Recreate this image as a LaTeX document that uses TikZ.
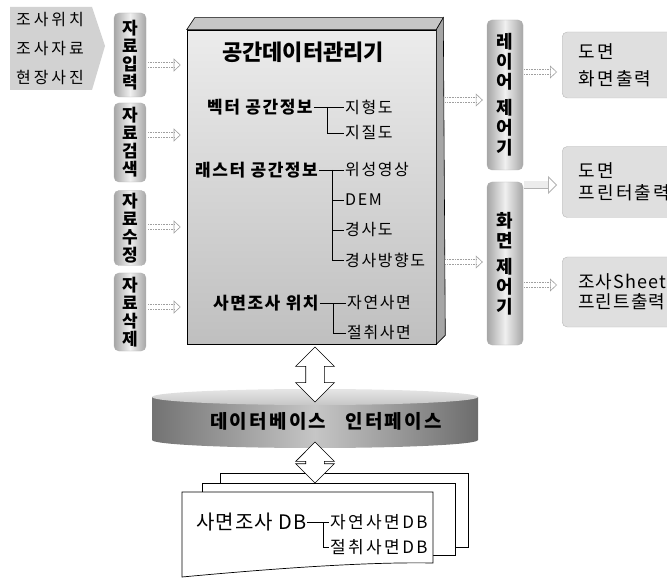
\documentclass[tikz,border=0pt]{standalone}
\usepackage{fontspec}
\setmainfont{Noto Sans CJK KR}
\usetikzlibrary{shapes.arrows,arrows.meta,calc}
\newcommand\lsp[1]{\addfontfeatures{LetterSpace=#1}}
\begin{document}
\begin{tikzpicture}[x=1pt,y=-1pt,
  lpill/.style={draw=gray!60, rounded corners=5pt, left color=gray!70, right color=gray!70, middle color=gray!12,
    minimum width=32pt, align=center, inner sep=0pt, font=\bfseries\fontsize{17}{18}\selectfont},
  rpill/.style={lpill, minimum width=36pt, font=\bfseries\fontsize{18}{20}\selectfont},
  mainface/.style={draw=black, line width=0.6pt, top color=gray!15, bottom color=gray!50, minimum width=249pt, minimum height=314pt, inner sep=0pt},
  cat/.style={anchor=west, inner sep=1pt, font=\bfseries\fontsize{17}{20}\selectfont\lsp{9}},
  item/.style={anchor=west, inner sep=1pt, font=\fontsize{16}{19}\selectfont\lsp{10}},
  tree/.style={line width=0.7pt, black},
  dotarr/.style={draw=gray!75, densely dotted, line width=0.6pt, double=white, double distance=4pt,
    -{Triangle[open, length=7pt, width=13pt]}},
  grayarr/.style={draw=gray!60, line width=0.8pt, double=gray!15, double distance=7pt,
    -{Triangle[open, length=9pt, width=18pt]}},
  outbox/.style={anchor=west, draw=gray!55, fill=gray!25, rounded corners=5pt, align=left, text width=100pt,
    inner xsep=16pt, inner ysep=0pt, minimum height=66pt, font=\fontsize{18}{22}\selectfont\lsp{13}},
  dblarr/.style={double arrow, draw=black, fill=white, line width=0.7pt, rotate=90, inner xsep=0pt, inner ysep=9pt,
    double arrow head extend=10pt, double arrow head indent=0pt}
]
\useasboundingbox (0,0) rectangle (667,580);

% source box
\fill[gray!35] (10,7) -- (92,7) -- (105,46) -- (92,90) -- (10,90) -- cycle;
\node[anchor=north west, align=left, inner sep=0pt, font=\fontsize{16}{29}\selectfont\lsp{18}] (src) at (16,12) {조사위치\\조사자료\\현장사진};

% left pills
\node[lpill, minimum height=84pt] (p1) at (130,55) {자\\료\\입\\력};
\node[lpill, minimum height=79pt] (p2) at (130,142.5) {자\\료\\검\\색};
\node[lpill, minimum height=75pt] (p3) at (130,228) {자\\료\\수\\정};
\node[lpill, minimum height=78pt] (p4) at (130,312) {자\\료\\삭\\제};

% main box
\node[mainface] (main) at (311.5,187) {};
\filldraw[fill=gray!45, draw=black, line width=0.6pt] (main.north west) -- ++(8,-12) -- ($(main.north east)+(7,-12)$) -- (main.north east) -- cycle;
\filldraw[fill=gray!70, draw=black, line width=0.6pt] (main.north east) -- ++(7,-12) -- ($(main.south east)+(9,-9)$) -- (main.south east) -- cycle;

\node[font=\bfseries\fontsize{22}{26}\selectfont] (title) at (303,52) {공간데이터관리기};

\node[cat] (vp) at (206,107) {벡터 공간정보};
\node[item] (v1) at (344,107) {지형도};
\node[item] (v2) at (344,133) {지질도};
\draw[tree] (vp.east) -- (v1.west);
\draw[tree] (vp.east -| 327,0) |- (v2.west);

\node[cat] (rp) at (194,170) {래스터 공간정보};
\node[item] (r1t) at (344,170) {위성영상};
\node[item] (r2t) at (344,200) {DEM};
\node[item] (r3t) at (344,230) {경사도};
\node[item] (r4t) at (344,260) {경사방향도};
\draw[tree] (rp.east) -- (r1t.west);
\draw[tree] (rp.east -| 332,0) |- (r4t.west);
\draw[tree] (r2t.west -| 332,0) -- (r2t.west);
\draw[tree] (r3t.west -| 332,0) -- (r3t.west);

\node[cat] (sp) at (212,303) {사면조사 위치};
\node[item] (s1) at (346,303) {자연사면};
\node[item] (s2) at (346,333) {절취사면};
\draw[tree] (sp.east) -- (s1.west);
\draw[tree] (sp.east -| 333,0) |- (s2.west);

% arrows left pills -> main
\draw[dotarr, shorten <=2pt, shorten >=6pt] (p1.east |- 0,65) -- (main.west |- 0,65);
\draw[dotarr, shorten <=2pt, shorten >=6pt] (p2.east |- 0,135) -- (main.west |- 0,135);
\draw[dotarr, shorten <=2pt, shorten >=6pt] (p3.east |- 0,227) -- (main.west |- 0,227);
\draw[dotarr, shorten <=2pt, shorten >=6pt] (p4.east |- 0,307) -- (main.west |- 0,307);

% right pills
\node[rpill, minimum height=150pt] (c1) at (505,95) {레\\이\\어\\[6pt]제\\어\\기};
\node[rpill, minimum height=163pt] (c2) at (505,263.5) {화\\면\\[6pt]제\\어\\기};

\draw[dotarr, shorten <=9pt, shorten >=4pt] (main.east |- 0,100) -- (c1.west |- 0,100);
\draw[dotarr, shorten <=9pt, shorten >=4pt] (main.east |- 0,262) -- (c2.west |- 0,262);

% output boxes
\node[outbox, font=\fontsize{18}{27}\selectfont\lsp{13}] (o1) at (562,65) {도면\\화면출력};
\node[outbox, minimum height=71pt] (o2) at (562,182) {도면\\프린터출력};
\node[outbox, minimum height=70pt, font=\fontsize{18}{20}\selectfont\lsp{6}] (o3) at (562,292) {조사Sheet\\프린트출력};

\draw[dotarr, shorten <=1pt, shorten >=5pt] (c1.east |- 0,72) -- (o1.west |- 0,72);
\draw[grayarr, shorten <=1pt, shorten >=5pt] (c2.east |- 0,185) -- (o2.west |- 0,185);
\draw[dotarr, shorten <=1pt, shorten >=5pt] (c2.east |- 0,285) -- (o3.west |- 0,285);

% database interface cylinder
\shade[left color=gray!90!black, right color=gray!85!black, middle color=gray!45]
  (152,397) -- (152,440) arc[start angle=180, end angle=0, x radius=163, y radius=8] -- (478,397) -- cycle;
\shade[top color=gray!20, bottom color=gray!45] (315,397) ellipse[x radius=163, y radius=8];
\node[minimum width=326pt, minimum height=59pt, inner sep=0pt] (cyl) at (315,418.5) {};
\node[font=\bfseries\fontsize{19}{22}\selectfont\lsp{12}] (dbi) at (326,421) {데이터베이스\quad 인터페이스};

% DB pages
\filldraw[fill=white, draw=black, line width=0.7pt] (220,473) rectangle (468,547);
\filldraw[fill=white, draw=black, line width=0.7pt] (202,483) rectangle (455,555);
\filldraw[fill=white, draw=black, line width=0.7pt] (182,492) -- (433,492) -- (433,563)
  .. controls (380,562) and (300,566) .. (182,577) -- cycle;
\node[anchor=west, inner sep=1pt, font=\fontsize{20}{24}\selectfont\lsp{5}] (dbt) at (195,522) {사면조사 DB};
\node[item, font=\fontsize{17}{20}\selectfont\lsp{14}] (d1) at (329,522) {자연사면DB};
\node[item, font=\fontsize{17}{20}\selectfont\lsp{14}] (d2) at (329,547) {절취사면DB};
\draw[tree] (dbt.east) -- (d1.west);
\draw[tree] (dbt.east -| 323,0) |- (d2.west);

% double arrows
\node[dblarr, minimum height=55pt] (da1) at (315,374.5) {};
\node[dblarr, minimum height=41pt] (da2) at (315,462.5) {};
\end{tikzpicture}
\end{document}
